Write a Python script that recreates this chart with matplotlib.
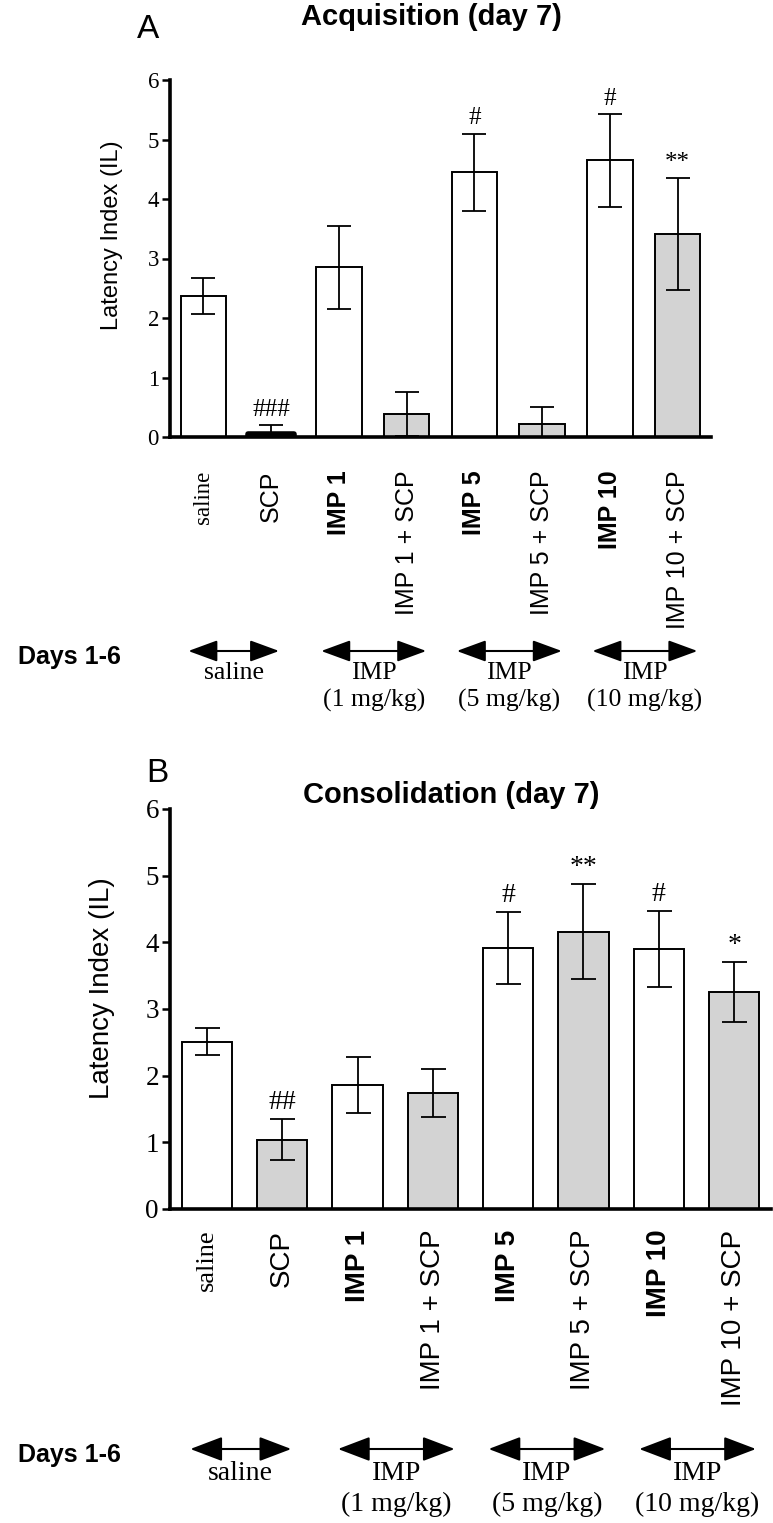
import matplotlib.pyplot as plt
from matplotlib.transforms import blended_transform_factory

SANS = 'Liberation Sans'
SERIF = 'Liberation Serif'

groups = ['saline', 'SCP', 'IMP 1', 'IMP 1 + SCP',
          'IMP 5', 'IMP 5 + SCP', 'IMP 10', 'IMP 10 + SCP']
scp_given = [False, True, False, True, False, True, False, True]

# panel A - acquisition
acq_mean = [2.37, 0.05, 2.85, 0.39, 4.45, 0.22, 4.65, 3.41]
acq_sem = [0.30, 0.15, 0.70, 0.37, 0.65, 0.29, 0.78, 0.94]
acq_marks = ['', '###', '', '', '#', '', '#', '**']

# panel B - consolidation
con_mean = [2.51, 1.04, 1.86, 1.74, 3.91, 4.16, 3.90, 3.25]
con_sem = [0.20, 0.31, 0.42, 0.36, 0.54, 0.71, 0.57, 0.45]
con_marks = ['', '##', '', '', '#', '**', '#', '*']

pretreat = ['saline', 'IMP\n(1 mg/kg)', 'IMP\n(5 mg/kg)', 'IMP\n(10 mg/kg)']

W, H = 773, 1523
fig = plt.figure(figsize=(W / 100, H / 100), dpi=100)


def fy(px):
    return 1 - px / H


def panel(rect, mean, sem, marks, title, title_xy, letter, letter_xy,
          fs, capsize, label_pad, ylabel_xy, arrow_y, text_y, head):
    ax = fig.add_axes(rect)
    x = list(range(len(groups)))
    colors = ['#d3d3d3' if s else 'white' for s in scp_given]
    bars = ax.bar(x, mean, width=0.67, color=colors, edgecolor='black',
                  linewidth=1.4, zorder=2)
    # very short bars look like a thick black stroke in the original
    for b, m in zip(bars, mean):
        if m < 0.1:
            b.set_linewidth(4)
            b.set_joinstyle('round')
    ax.errorbar(x, mean, yerr=sem, fmt='none', ecolor='black',
                elinewidth=1.3, capsize=capsize, capthick=1.3, zorder=3)
    for xi, m, s, t in zip(x, mean, sem, marks):
        if t:
            ax.annotate(t, (xi, m + s), xytext=(0, 3), textcoords='offset points',
                        ha='center', va='bottom', fontsize=fs['mark'],
                        family=SERIF)

    ax.set_xlim(-0.49, 7.49)
    ax.set_ylim(0, 6)
    ax.set_yticks(range(0, 7))
    ax.set_yticklabels([str(v) for v in range(0, 7)], fontsize=fs['tick'],
                       family=SERIF)
    ax.tick_params(axis='y', length=6, width=1.8, pad=2)
    ax.set_xticks(x)
    ax.set_xticklabels(groups, rotation=90, fontsize=fs['cat'])
    ax.tick_params(axis='x', length=0, pad=label_pad)
    for lab in ax.get_xticklabels():
        txt = lab.get_text()
        if txt == 'saline':
            lab.set_family(SERIF)
            lab.set_fontsize(fs['saline'])
        else:
            lab.set_family(SANS)
            if '+' not in txt and txt != 'SCP':
                lab.set_fontweight('bold')

    for side in ['top', 'right']:
        ax.spines[side].set_visible(False)
    for side in ['left', 'bottom']:
        ax.spines[side].set_linewidth(2.6)
        ax.spines[side].set_zorder(4)

    ax.set_ylabel('Latency Index (IL)', fontsize=fs['ylabel'], family=SANS)
    ax.yaxis.set_label_coords(*ylabel_xy)

    fig.text(title_xy[0] / W, fy(title_xy[1]), title, ha='center', va='center',
             fontsize=21, fontweight='bold', family=SANS)
    fig.text(letter_xy[0] / W, fy(letter_xy[1]), letter, ha='center',
             va='center', fontsize=24, family=SANS)

    # pretreatment row
    trans = blended_transform_factory(ax.transData, fig.transFigure)
    fig.text(18 / W, fy(arrow_y + 6), 'Days 1-6', ha='left', va='center',
             fontsize=18, fontweight='bold', family=SANS)
    for k, lab in enumerate(pretreat):
        i0 = 2 * k
        if k == 0:
            x0, x1 = i0 - 0.22, i0 + 1.12
        else:
            x0, x1 = i0 - 0.26, i0 + 1.29
        ax.annotate('', xy=(x1, fy(arrow_y)), xytext=(x0, fy(arrow_y)),
                    xycoords=trans, textcoords=trans,
                    arrowprops=dict(arrowstyle='<|-|>,head_length=%.2f,head_width=%.2f'
                                    % head, mutation_scale=20, color='black',
                                    lw=1.5, shrinkA=0, shrinkB=0))
        ax.text((x0 + x1) / 2, fy(text_y), lab, transform=trans, ha='center',
                va='top', fontsize=fs['small'], family=SERIF, linespacing=1.3)
    return ax


panel([170 / W, fy(437), 541 / W, 357 / H], acq_mean, acq_sem, acq_marks,
      'Acquisition (day 7)', (431, 17), 'A', (148, 30),
      dict(tick=16.5, cat=18, saline=16.5, mark=18, ylabel=17, small=18.5),
      8.5, 24, (-0.087, 0.566), 651, 662, (0.9, 0.33))

panel([170 / W, fy(1209), 601 / W, 400 / H], con_mean, con_sem, con_marks,
      'Consolidation (day 7)', (451, 795), 'B', (157, 774),
      dict(tick=19.5, cat=20, saline=19, mark=20, ylabel=20, small=20),
      9, 15, (-0.092, 0.553), 1449, 1461, (1.0, 0.38))

fig.savefig('out.png', dpi=100)
